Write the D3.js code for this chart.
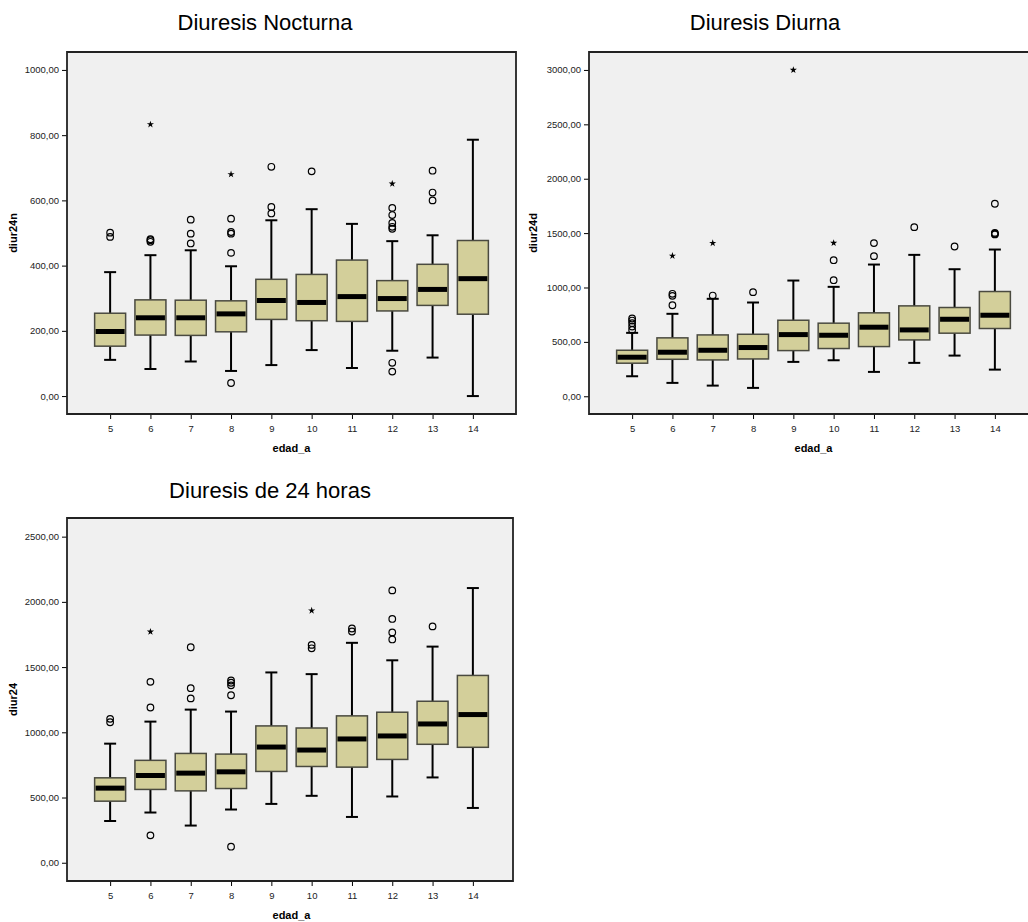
<!DOCTYPE html>
<html>
<head>
<meta charset="utf-8">
<script src="https://cdn.jsdelivr.net/npm/d3@7"></script>
<style>
  body { margin: 0; background: #fff; }
  svg { display: block; font-family: Arial, "Liberation Sans", sans-serif; }
</style>
</head>
<body>
<div id="chart"></div>
<script>
// Categories (edad_a)
const ages = [5, 6, 7, 8, 9, 10, 11, 12, 13, 14];

// Diuresis Nocturna (diur24n)
const nocLow  = [111, 83, 106, 77, 95, 141, 86, 139, 118, 0];
const nocQ1   = [153, 187, 186, 197, 235, 231, 229, 261, 278, 251];
const nocMed  = [198, 240, 240, 252, 293, 287, 305, 299, 327, 360];
const nocQ3   = [254, 295, 294, 292, 358, 373, 417, 354, 404, 477];
const nocHigh = [380, 432, 447, 398, 539, 573, 528, 475, 493, 786];
const nocOut  = [[488, 501], [473, 478, 481], [468, 498, 541], [40, 439, 498, 503, 544],
                 [560, 580, 703], [689], [], [75, 102, 513, 519, 531, 555, 577], [600, 624, 691], []];
const nocExt  = [[], [833], [], [680], [], [], [], [651], [], []];
const nocTicks = [0, 200, 400, 600, 800, 1000];

// Diuresis Diurna (diur24d)
const diaLow  = [184, 123, 98, 77, 316, 331, 224, 307, 374, 245];
const diaQ1   = [304, 340, 334, 343, 420, 439, 457, 518, 580, 623];
const diaMed  = [359, 405, 423, 448, 567, 561, 635, 610, 708, 745];
const diaQ3   = [423, 537, 564, 570, 699, 672, 767, 831, 816, 963];
const diaHigh = [583, 758, 896, 862, 1064, 1006, 1211, 1300, 1168, 1349];
const diaOut  = [[610, 641, 672, 696, 715], [837, 923, 942], [926], [957], [], [1067, 1251],
                 [1288, 1408], [1555], [1377], [1488, 1495, 1502, 1770]];
const diaExt  = [[], [1291], [1408], [], [3000], [1409], [], [], [], []];
const diaTicks = [0, 500, 1000, 1500, 2000, 2500, 3000];

// Diuresis de 24 horas (diur24)
const totLow  = [320, 385, 285, 408, 451, 513, 351, 508, 654, 420];
const totQ1   = [472, 562, 551, 569, 700, 738, 733, 792, 908, 885];
const totMed  = [572, 669, 687, 697, 887, 864, 949, 972, 1064, 1136];
const totQ3   = [651, 785, 838, 833, 1049, 1033, 1126, 1154, 1238, 1436];
const totHigh = [913, 1082, 1174, 1159, 1459, 1446, 1686, 1552, 1657, 2106];
const totOut  = [[1077, 1103], [210, 1190, 1387], [1260, 1338, 1652], [123, 1284, 1360, 1380, 1397],
                 [], [1644, 1670], [1773, 1796], [1712, 1766, 1869, 2088], [1812], []];
const totExt  = [[], [1771], [], [], [], [1933], [], [], [], []];
const totTicks = [0, 500, 1000, 1500, 2000, 2500];

const width = 1028, height = 922;

const svg = d3.select("#chart")
  .append("svg")
  .attr("width", width)
  .attr("height", height);

const fmt = d => d3.format(".2f")(d).replace(".", ",");

// Draw one SPSS style boxplot panel
function boxPanel(opt)
{
  const x = d3.scalePoint()
    .domain(ages)
    .range([opt.left, opt.left + 449])
    .padding(1.07);

  const y = d3.scaleLinear()
    .domain(opt.domain)
    .range([opt.bottom, opt.top]);

  const g = svg.append("g");

  // clip so a panel cut at the page edge stays cut
  g.append("rect")
    .attr("x", opt.left)
    .attr("y", opt.top)
    .attr("width", opt.right - opt.left)
    .attr("height", opt.bottom - opt.top)
    .attr("fill", "#f0f0f0");

  // title
  g.append("text")
    .attr("x", opt.titleX)
    .attr("y", opt.titleY)
    .attr("text-anchor", "middle")
    .style("font-size", "22px")
    .text(opt.title);

  // y axis
  const yAxis = g.append("g")
    .attr("transform", `translate(${opt.left},0)`)
    .call(d3.axisLeft(y).tickValues(opt.ticks).tickFormat(fmt).tickSizeOuter(0).tickSize(5).tickPadding(3));
  yAxis.select(".domain").remove();
  yAxis.selectAll(".tick line").attr("stroke", "#000").attr("stroke-width", 1);
  yAxis.selectAll(".tick text").style("font-size", "9.5px").attr("fill", "#222");

  // x axis
  const xAxis = g.append("g")
    .attr("transform", `translate(0,${opt.bottom})`)
    .call(d3.axisBottom(x).tickSizeOuter(0).tickSize(5).tickPadding(6));
  xAxis.select(".domain").remove();
  xAxis.selectAll(".tick line").attr("stroke", "#000").attr("stroke-width", 1);
  xAxis.selectAll(".tick text").style("font-size", "9.5px").attr("fill", "#222");

  // axis titles
  g.append("text")
    .attr("transform", `translate(${opt.yLabelX},${(opt.top + opt.bottom) / 2}) rotate(-90)`)
    .attr("text-anchor", "middle")
    .style("font-size", "11px")
    .style("font-weight", "bold")
    .text(opt.yLabel);

  g.append("text")
    .attr("x", opt.left + 449 / 2)
    .attr("y", opt.bottom + 38)
    .attr("text-anchor", "middle")
    .style("font-size", "11px")
    .style("font-weight", "bold")
    .text("edad_a");

  const boxW = 31, capW = 12;

  ages.forEach((a, i) =>
  {
    const cx = x(a);

    // whiskers
    g.append("line")
      .attr("x1", cx).attr("x2", cx)
      .attr("y1", y(opt.low[i])).attr("y2", y(opt.high[i]))
      .attr("stroke", "#000").attr("stroke-width", 2);
    [opt.low[i], opt.high[i]].forEach(v =>
    {
      g.append("line")
        .attr("x1", cx - capW / 2).attr("x2", cx + capW / 2)
        .attr("y1", y(v)).attr("y2", y(v))
        .attr("stroke", "#000").attr("stroke-width", 2);
    });

    // box
    g.append("rect")
      .attr("x", cx - boxW / 2)
      .attr("y", y(opt.q3[i]))
      .attr("width", boxW)
      .attr("height", y(opt.q1[i]) - y(opt.q3[i]))
      .attr("fill", "#d3cf9a")
      .attr("stroke", "#4a4a40")
      .attr("stroke-width", 1.5);

    // median
    g.append("line")
      .attr("x1", cx - boxW / 2 + 1).attr("x2", cx + boxW / 2 - 1)
      .attr("y1", y(opt.med[i])).attr("y2", y(opt.med[i]))
      .attr("stroke", "#000").attr("stroke-width", 5);

    // outliers
    opt.out[i].forEach(v =>
    {
      g.append("circle")
        .attr("cx", cx).attr("cy", y(v))
        .attr("r", 3.3)
        .attr("fill", "none")
        .attr("stroke", "#000")
        .attr("stroke-width", 1.2);
    });

    // extremes
    opt.ext[i].forEach(v =>
    {
      g.append("path")
        .attr("d", d3.symbol(d3.symbolStar, 16)())
        .attr("transform", `translate(${cx},${y(v)})`)
        .attr("fill", "#000");
    });
  });

  // frame
  g.append("path")
    .attr("d", `M${opt.right},${opt.top}H${opt.left}V${opt.bottom}H${opt.right}` + (opt.closed ? "Z" : ""))
    .attr("fill", "none")
    .attr("stroke", "#222")
    .attr("stroke-width", 1.8);
}

boxPanel({
  title: "Diuresis Nocturna", titleX: 265, titleY: 30,
  left: 67, right: 516, top: 52, bottom: 414, closed: true,
  domain: [-55, 1055], ticks: nocTicks, yLabel: "diur24n", yLabelX: 17,
  low: nocLow, q1: nocQ1, med: nocMed, q3: nocQ3, high: nocHigh, out: nocOut, ext: nocExt
});

boxPanel({
  title: "Diuresis Diurna", titleX: 765, titleY: 30,
  left: 589, right: 1040, top: 52, bottom: 414, closed: false,
  domain: [-163, 3165], ticks: diaTicks, yLabel: "diur24d", yLabelX: 537,
  low: diaLow, q1: diaQ1, med: diaMed, q3: diaQ3, high: diaHigh, out: diaOut, ext: diaExt
});

boxPanel({
  title: "Diuresis de 24 horas", titleX: 270, titleY: 498,
  left: 67, right: 513, top: 518, bottom: 881, closed: true,
  domain: [-140, 2643], ticks: totTicks, yLabel: "diur24", yLabelX: 17,
  low: totLow, q1: totQ1, med: totMed, q3: totQ3, high: totHigh, out: totOut, ext: totExt
});
</script>
</body>
</html>
